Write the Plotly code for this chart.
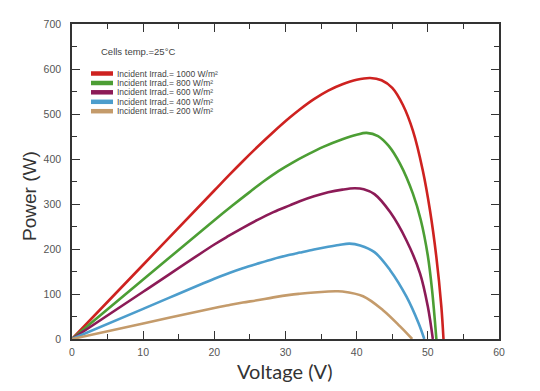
import plotly.graph_objects as go

# ---- data ----
series_names = ["Incident Irrad.= 1000 W/m²", "Incident Irrad.= 800 W/m²",
                "Incident Irrad.= 600 W/m²", "Incident Irrad.= 400 W/m²",
                "Incident Irrad.= 200 W/m²"]
colors = ["#CE2220", "#4C9E34", "#8C1B57", "#4C9DCC", "#C49B6B"]

v_1000 = [0, 10, 20, 22, 24, 26, 28.3, 30.6, 32, 34, 36, 38, 40, 41.9, 43.5, 45, 46.5, 47.9, 49.3, 50.3, 51.2, 51.9, 52.2]
p_1000 = [0, 165, 330, 363, 395, 426, 460, 492, 510, 533, 552, 566, 576, 580, 575, 558, 520, 463, 374, 286, 182, 72, 0]

v_800 = [0, 10, 20, 22.5, 25, 27, 29, 31, 33, 35.3, 38, 40, 41.4, 43, 44.5, 46.1, 47.9, 49, 50, 50.6, 51.2]
p_800 = [0, 132, 264, 296, 327, 351, 373, 392, 409, 427, 444, 454, 458, 451, 429, 389, 323, 265, 185, 108, 0]

v_600 = [0, 10, 20, 22, 24, 26, 28.3, 30.6, 32, 34, 36, 38, 39.7, 41, 42.5, 44.7, 47, 48.9, 50, 50.7]
p_600 = [0, 105, 210, 229, 247, 264, 282, 297, 306, 317, 326, 332, 335, 333, 322, 282, 219, 146, 72, 0]

v_400 = [0, 10, 20, 22, 24, 26, 28.3, 30.6, 32, 34, 36, 37.5, 39, 40.5, 42.5, 44.7, 47, 48.7, 49.5]
p_400 = [0, 67, 134, 146, 157, 167, 178, 187, 192, 199, 205, 209, 212, 208, 193, 153, 94, 35, 0]

v_200 = [0, 10, 20, 22, 24, 26, 28.3, 30.6, 32, 34, 36, 37, 38, 40.9, 43.7, 46.1, 47.8]
p_200 = [0, 34.5, 69, 75, 81, 86, 92.5, 98, 100.5, 103.5, 105.5, 106, 105.5, 95, 64, 28, 0]

voltages = [v_1000, v_800, v_600, v_400, v_200]
powers = [p_1000, p_800, p_600, p_400, p_200]

cell_temp_label = "Cells temp.=25°C"
x_title = "Voltage (V)"
y_title = "Power (W)"

fig = go.Figure()
for name, col, vx, py in zip(series_names, colors, voltages, powers):
    fig.add_trace(go.Scatter(x=vx, y=py, mode="lines", name=name,
                             line=dict(color=col, width=2.6, shape="spline", smoothing=1.0),
                             showlegend=False))

# page body has an 8px margin: positions below are page pixels, shifted by OFF
OFF = 8
W, H = 540, 391
L, R, T, B = 72 - OFF, 499 - OFF, 24 - OFF, 339 - OFF

def px(xp):
    return (xp - OFF - L) / (R - L)

def py_(yp):
    return (B - (yp - OFF)) / (B - T)

annotations = [dict(x=px(99), y=py_(51), xref="paper", yref="paper", text=cell_temp_label,
                    showarrow=False, xanchor="left", yanchor="middle",
                    font=dict(family="Liberation Sans, Arial", size=9.5, color="#444")),
               dict(x=px(285), y=py_(371), xref="paper", yref="paper", text=x_title,
                    showarrow=False, xanchor="center", yanchor="middle",
                    font=dict(family="Lato, Noto Sans", size=20, color="#333")),
               dict(x=px(29), y=py_(196), xref="paper", yref="paper", text=y_title,
                    showarrow=False, xanchor="center", yanchor="middle", textangle=-90,
                    font=dict(family="Liberation Sans, Arial", size=19, color="#333"))]
shapes = []
row_y = [73.5, 83, 92.3, 101.8, 111.2]
for name, col, ry in zip(series_names, colors, row_y):
    shapes.append(dict(type="line", xref="paper", yref="paper",
                       x0=px(91), x1=px(113), y0=py_(ry), y1=py_(ry),
                       line=dict(color=col, width=4.5)))
    annotations.append(dict(x=px(115), y=py_(ry), xref="paper", yref="paper", text=name,
                            showarrow=False, xanchor="left", yanchor="middle",
                            font=dict(family="Liberation Sans, Arial", size=8.5, color="#444")))

axis_common = dict(showline=True, linecolor="#333", linewidth=1.6, mirror="allticks",
                   ticks="inside", ticklen=8, tickwidth=1.3, tickcolor="#333",
                   showgrid=False, zeroline=False, automargin=False,
                   tickfont=dict(family="Liberation Sans, Arial", size=10.5, color="#555"))

fig.update_layout(
    width=W, height=H,
    margin=dict(l=L, r=W - R, t=T, b=H - B, autoexpand=False),
    paper_bgcolor="white", plot_bgcolor="white",
    annotations=annotations, shapes=shapes,
    xaxis=dict(range=[0, 60], dtick=10, tick0=0, ticklabelstandoff=3,
               minor=dict(ticks="inside", ticklen=5, dtick=5, tickcolor="#333", tickwidth=1.2),
               **axis_common),
    yaxis=dict(range=[0, 700], dtick=100, tick0=0, ticklabelstandoff=7,
               minor=dict(ticks="inside", ticklen=5, dtick=50, tickcolor="#333", tickwidth=1.2),
               **axis_common),
)

fig.write_html("out.html")
